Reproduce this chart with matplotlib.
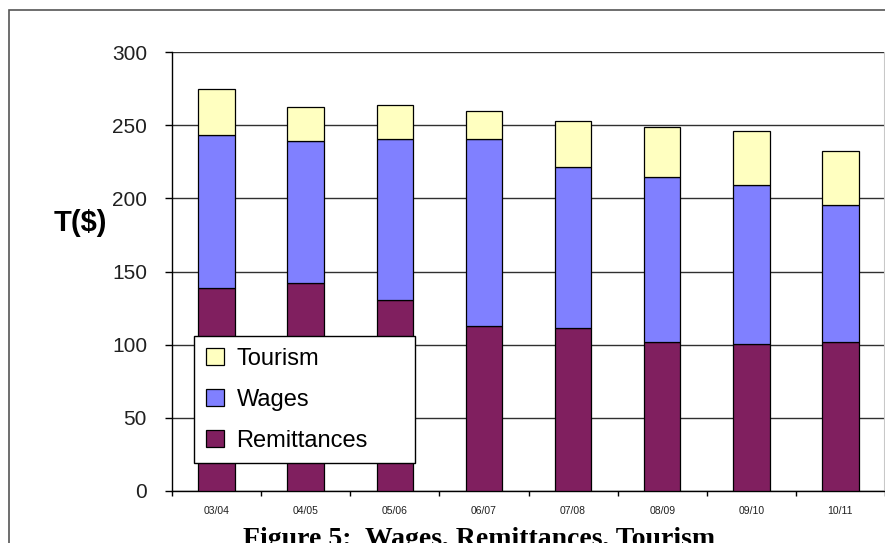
import matplotlib.pyplot as plt
from matplotlib.patches import Rectangle
import numpy as np

# fiscal years on the x axis
years = ["03/04", "04/05", "05/06", "06/07", "07/08", "08/09", "09/10", "10/11"]

# stacked components, T($)
remittances = [138.5, 142.4, 130.3, 112.8, 111.4, 101.8, 100.7, 101.8]
wages = [104.5, 96.6, 110.0, 127.5, 110.0, 112.8, 108.4, 93.6]
tourism = [31.5, 23.2, 23.3, 19.2, 31.2, 33.9, 36.7, 36.7]

yticks = [0, 50, 100, 150, 200, 250, 300]

plt.rcParams['font.family'] = ['Liberation Sans', 'DejaVu Sans']

fig = plt.figure(figsize=(8.85, 5.43), dpi=100)
ax = fig.add_axes([172 / 885, 52 / 543, 713 / 885, 439 / 543])

x = np.arange(len(years))
w = 0.41
rem = np.array(remittances)
wag = np.array(wages)
tou = np.array(tourism)

ax.bar(x, rem, w, color='#801F5F', edgecolor='black', linewidth=0.9,
       label='Remittances', zorder=3)
ax.bar(x, wag, w, bottom=rem, color='#8080FF', edgecolor='black',
       linewidth=0.9, label='Wages', zorder=3)
ax.bar(x, tou, w, bottom=rem + wag, color='#FFFFC0', edgecolor='black',
       linewidth=0.9, label='Tourism', zorder=3)

ax.set_xlim(-0.5, len(years) - 0.5)
ax.set_ylim(0, 300)
ax.set_yticks(yticks)
ax.set_yticklabels([str(v) for v in yticks], fontsize=15, color='#202020')
ax.yaxis.grid(True, color='#303030', linewidth=1.0, zorder=0)
ax.set_axisbelow(True)

# category labels centred, ticks on the boundaries
ax.set_xticks(x)
ax.set_xticklabels(years, fontsize=7.5, color='#202020')
ax.tick_params(axis='x', length=0, pad=11)
ax.set_xticks(np.arange(len(years) + 1) - 0.5, minor=True)
ax.tick_params(axis='x', which='minor', length=3.5, direction='out', width=1)
ax.tick_params(axis='y', length=5, direction='out', width=1, pad=13)

for s in ['top', 'right']:
    ax.spines[s].set_visible(False)
ax.spines['left'].set_linewidth(1)
ax.spines['bottom'].set_linewidth(1)

# light border on the right of the plot area
ax.axvline(len(years) - 0.5, color='#c8c8c8', linewidth=1.5, zorder=1)

fig.text(80 / 885, 1 - 223 / 543, 'T($)', fontsize=21, fontweight='bold',
         ha='center', va='center')

handles, labels = ax.get_legend_handles_labels()
leg = ax.legend(handles[::-1], labels[::-1], loc='upper left',
                bbox_to_anchor=(194 / 885, 1 - 461 / 543, 221 / 885, 125 / 543),
                bbox_transform=fig.transFigure, mode='expand', fontsize=17,
                fancybox=False, framealpha=1, edgecolor='black',
                handlelength=0.75, handleheight=0.75, handletextpad=0.55,
                labelspacing=0.8, borderpad=0.5, borderaxespad=0)
leg.get_frame().set_linewidth(1)

# outer frame around the chart
fig.patches.append(Rectangle((9 / 885, -0.1), 1.2, 1 - 10 / 543 + 0.1,
                             transform=fig.transFigure, fill=False,
                             edgecolor='#555555', linewidth=1.2))

fig.text(479 / 885, -3 / 543, 'Figure 5:  Wages, Remittances, Tourism',
         fontsize=20, fontweight='bold', family=['Liberation Serif', 'DejaVu Serif'],
         ha='center', va='baseline')

fig.savefig('out.png', dpi=100)
